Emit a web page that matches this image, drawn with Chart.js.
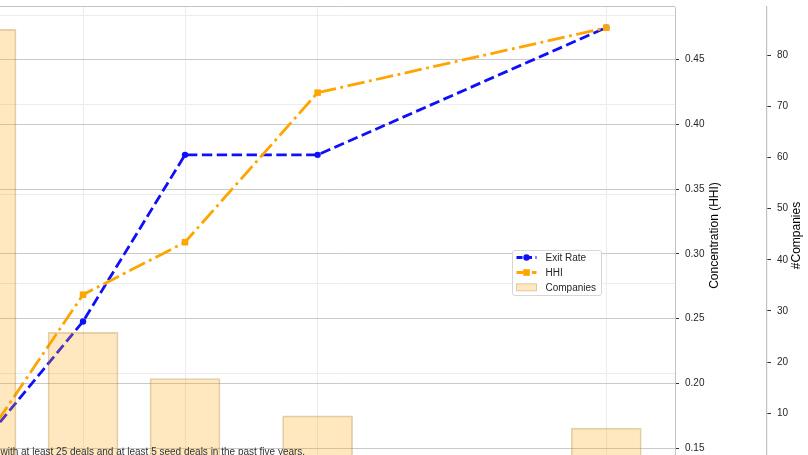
<!DOCTYPE html>
<html>
<head>
<meta charset="utf-8">
<script src="https://cdn.jsdelivr.net/npm/chart.js@4.4.0/dist/chart.umd.min.js"></script>
<style>
html,body{margin:0;padding:0;background:#fff;overflow:hidden}
#wrap{position:relative;width:808px;height:455px}
canvas{display:block}
</style>
</head>
<body>
<div id="wrap"><canvas id="c" width="808" height="455" style="width:808px;height:455px"></canvas></div>
<script>
// ---- data ----
const xValues = [1, 2, 3, 4.3, 7.13];
const exitRate = [0.110, 0.179, 0.272, 0.272, 0.343];
const hhiValues = [0.152, 0.2685, 0.309, 0.4244, 0.4745];
const companies = [85, 25.8, 16.8, 9.5, 7.1];
const hhiTicks = [0.15, 0.20, 0.25, 0.30, 0.35, 0.40, 0.45];
const companyTicks = [10, 20, 30, 40, 50, 60, 70, 80];
const exitTicks = [0.10, 0.15, 0.20, 0.25, 0.30, 0.35];
const seriesLabels = ['Exit Rate', 'HHI', 'Companies'];
const hhiTitle = 'Concentration (HHI)';
const companiesTitle = '#Companies';
const footnote = 'with at least 25 deals and at least 5 seed deals in the past five years.';

// ---- styles ----
const FONT = 'Liberation Sans, Arial, Helvetica, sans-serif';
const BLUE = '#1010f8';
const ORANGE = '#ffa500';
const BAR_FILL = 'rgba(255,165,0,0.25)';
const BAR_EDGE = 'rgba(170,125,50,0.35)';
const TEXT = '#262626';
const EXIT_DASH = [10.4, 4.5];
const HHI_DASH = [17.5, 4.5, 2.8, 4.5];

const pts = arr => arr.map((v, i) => ({x: xValues[i], y: v}));
const setTicks = arr => s => { s.ticks = arr.map(v => ({value: v})); };
const noPad = (w, h) => s => {
  if (w !== null) s.width = w;
  if (h !== null) s.height = h;
  s.paddingTop = 0; s.paddingBottom = 0; s.paddingLeft = 0; s.paddingRight = 0;
};

const overlay = {
  id: 'overlay',
  beforeDatasetsDraw(chart) {
    const {ctx, chartArea: a} = chart;
    ctx.save();
    ctx.strokeStyle = '#c4c4c4';
    ctx.lineWidth = 1;
    ctx.beginPath();
    ctx.moveTo(a.left, a.top - 0.5);
    ctx.lineTo(a.right, a.top - 0.5);
    ctx.stroke();
    ctx.restore();
  },
  afterDraw(chart) {
    const {ctx, scales} = chart;
    const midY = 235.5;
    ctx.save();
    // axis titles (rotated, reading bottom to top)
    ctx.fillStyle = '#000';
    ctx.font = '12px ' + FONT;
    ctx.textAlign = 'center';
    ctx.textBaseline = 'middle';
    [[hhiTitle, scales.yHHI.left + 39.5], [companiesTitle, scales.yComp.left + 30]].forEach(([t, x]) => {
      ctx.save();
      ctx.translate(x, midY);
      ctx.rotate(-Math.PI / 2);
      ctx.fillText(t, 0, 0);
      ctx.restore();
    });

    // legend
    const lx = 512.5, ly = 250.5, lw = 89, lh = 45;
    ctx.beginPath();
    if (ctx.roundRect) ctx.roundRect(lx, ly, lw, lh, 2.5); else ctx.rect(lx, ly, lw, lh);
    ctx.fillStyle = 'rgba(255,255,255,0.85)';
    ctx.fill();
    ctx.strokeStyle = '#d6d6d6';
    ctx.lineWidth = 1;
    ctx.stroke();

    const rows = [257.5, 272.5, 287.3];
    const sx0 = 516.5, sx1 = 536.5, sxm = 526.5;
    const ds = chart.data.datasets;
    // Exit Rate sample
    ctx.save();
    ctx.strokeStyle = ds[0].borderColor; ctx.lineWidth = ds[0].borderWidth;
    ctx.setLineDash([6, 3.5]);
    ctx.beginPath(); ctx.moveTo(sx0, rows[0]); ctx.lineTo(sx1, rows[0]); ctx.stroke();
    ctx.setLineDash([]);
    ctx.fillStyle = ds[0].borderColor;
    ctx.beginPath(); ctx.arc(sxm, rows[0], 3.2, 0, Math.PI * 2); ctx.fill();
    // HHI sample
    ctx.strokeStyle = ds[1].borderColor; ctx.lineWidth = ds[1].borderWidth;
    ctx.setLineDash([7, 3, 2.5, 3]);
    ctx.beginPath(); ctx.moveTo(sx0, rows[1]); ctx.lineTo(sx1, rows[1]); ctx.stroke();
    ctx.setLineDash([]);
    ctx.fillStyle = ds[1].borderColor;
    ctx.fillRect(sxm - 3.3, rows[1] - 3.3, 6.6, 6.6);
    // Companies sample
    ctx.fillStyle = '#fff';
    ctx.fillRect(sx0, rows[2] - 3.5, sx1 - sx0, 7);
    ctx.fillStyle = BAR_FILL;
    ctx.fillRect(sx0, rows[2] - 3.5, sx1 - sx0, 7);
    ctx.strokeStyle = BAR_EDGE; ctx.lineWidth = 1;
    ctx.strokeRect(sx0, rows[2] - 3.5, sx1 - sx0, 7);
    ctx.restore();

    ctx.fillStyle = TEXT;
    ctx.font = '10px ' + FONT;
    ctx.textAlign = 'left';
    ctx.textBaseline = 'middle';
    seriesLabels.forEach((t, i) => ctx.fillText(t, 545.5, rows[i] + 0.5));

    // footnote
    ctx.fillStyle = '#333';
    ctx.font = '10px ' + FONT;
    ctx.textBaseline = 'alphabetic';
    ctx.fillText(footnote, 0.5, 455.3);
    ctx.restore();
  }
};

new Chart(document.getElementById('c'), {
  type: 'line',
  data: {
    datasets: [
      {
        type: 'line', label: seriesLabels[0], data: pts(exitRate), yAxisID: 'yExit', xAxisID: 'x',
        borderColor: BLUE, backgroundColor: BLUE, borderWidth: 2.8, borderDash: EXIT_DASH,
        tension: 0, fill: false, pointStyle: 'circle', pointRadius: 3.2, pointBorderWidth: 0,
        pointBackgroundColor: BLUE, order: 3
      },
      {
        type: 'line', label: seriesLabels[1], data: pts(hhiValues), yAxisID: 'yHHI', xAxisID: 'x',
        borderColor: ORANGE, backgroundColor: ORANGE, borderWidth: 2.8, borderDash: HHI_DASH,
        tension: 0, fill: false, pointStyle: 'rect', pointRadius: 4.6, pointBorderWidth: 0,
        pointBackgroundColor: ORANGE, order: 2
      },
      {
        type: 'bar', label: seriesLabels[2], data: pts(companies), yAxisID: 'yComp', xAxisID: 'x',
        backgroundColor: BAR_FILL, borderColor: BAR_EDGE, borderWidth: 1, barThickness: 70,
        order: 1
      }
    ]
  },
  options: {
    responsive: false,
    animation: false,
    events: [],
    layout: {autoPadding: false, padding: {top: 7, left: 0, right: 0, bottom: 0}},
    plugins: {legend: {display: false}, tooltip: {enabled: false}, title: {display: false}},
    scales: {
      x: {
        type: 'linear', position: 'bottom', min: 1.186, max: 7.804, offset: false,
        afterBuildTicks: setTicks(xValues), afterFit: noPad(null, 0),
        ticks: {display: false},
        grid: {color: '#ececec', lineWidth: 1, drawTicks: false, offset: false},
        border: {display: false}
      },
      yExit: {
        type: 'linear', position: 'left', min: 0.1045, max: 0.3545,
        afterBuildTicks: setTicks(exitTicks), afterFit: noPad(0, null),
        ticks: {display: false},
        grid: {color: '#ececec', lineWidth: 1, drawTicks: false},
        border: {display: false}
      },
      yHHI: {
        type: 'linear', position: 'right', weight: 0, min: 0.1448, max: 0.4905,
        afterBuildTicks: setTicks(hhiTicks), afterFit: noPad(92, null),
        ticks: {display: true, color: TEXT, padding: 6, font: {family: FONT, size: 10},
                callback: v => Number(v).toFixed(2)},
        grid: {color: '#cacaca', lineWidth: 1, tickColor: '#333', tickLength: 4, tickWidth: 1},
        border: {display: true, color: '#c4c4c4', width: 1}
      },
      yComp: {
        type: 'linear', position: 'right', weight: 1, min: 1.854, max: 89.38,
        afterBuildTicks: setTicks(companyTicks), afterFit: noPad(41, null),
        ticks: {display: true, color: TEXT, padding: 6, font: {family: FONT, size: 10},
                callback: v => String(v)},
        grid: {drawOnChartArea: false, tickColor: '#333', tickLength: 4, tickWidth: 1},
        border: {display: true, color: '#c0c0c0', width: 1.2}
      }
    }
  },
  plugins: [overlay]
});
</script>
</body>
</html>
